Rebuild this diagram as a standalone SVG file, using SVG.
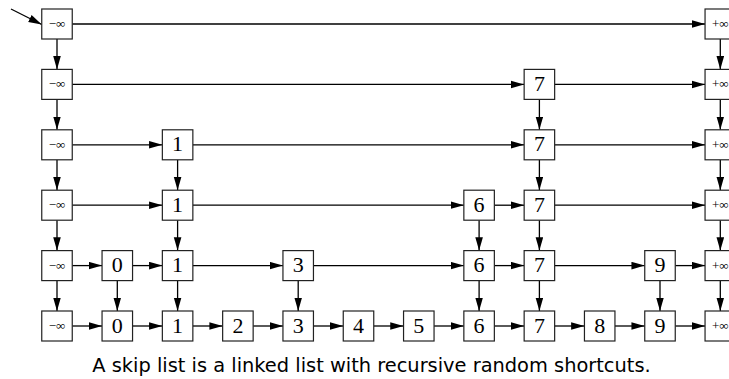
<svg xmlns="http://www.w3.org/2000/svg" width="729" height="379" viewBox="0 0 729 379">
<style>
.n rect{fill:#fff;stroke:#222;stroke-width:1.2}
.n text{font-family:"Liberation Serif",serif;font-size:22px;text-anchor:middle;fill:#000}
.n text.inf{font-size:13px}
#edges line{stroke:#000;stroke-width:1.3;marker-end:url(#ah)}
.cap{font-family:"DejaVu Sans",sans-serif;font-size:19.4px;text-anchor:middle;fill:#000}
</style>
<defs>
<marker id="ah" markerUnits="userSpaceOnUse" markerWidth="14" markerHeight="9" refX="13.3" refY="4" orient="auto">
<path d="M0,0.2 L13.3,4 L0,7.8 Z" fill="#000"/>
</marker>
</defs>
<rect width="729" height="379" fill="#fff"/>
<g id="edges">
<line x1="11" y1="9" x2="41.75" y2="24.5"/>
<!-- row 0 -->
<line x1="72.25" y1="24" x2="705.05" y2="24"/>
<!-- row 1 -->
<line x1="72.25" y1="84.4" x2="524.15" y2="84.4"/>
<line x1="554.65" y1="84.4" x2="705.05" y2="84.4"/>
<!-- row 2 -->
<line x1="72.25" y1="144.8" x2="162.35" y2="144.8"/>
<line x1="192.85" y1="144.8" x2="524.15" y2="144.8"/>
<line x1="554.65" y1="144.8" x2="705.05" y2="144.8"/>
<!-- row 3 -->
<line x1="72.25" y1="205.2" x2="162.35" y2="205.2"/>
<line x1="192.85" y1="205.2" x2="463.85" y2="205.2"/>
<line x1="494.35" y1="205.2" x2="524.15" y2="205.2"/>
<line x1="554.65" y1="205.2" x2="705.05" y2="205.2"/>
<!-- row 4 -->
<line x1="72.25" y1="265.6" x2="102.05" y2="265.6"/>
<line x1="132.55" y1="265.6" x2="162.35" y2="265.6"/>
<line x1="192.85" y1="265.6" x2="282.95" y2="265.6"/>
<line x1="313.45" y1="265.6" x2="463.85" y2="265.6"/>
<line x1="494.35" y1="265.6" x2="524.15" y2="265.6"/>
<line x1="554.65" y1="265.6" x2="644.75" y2="265.6"/>
<line x1="675.25" y1="265.6" x2="705.05" y2="265.6"/>
<!-- row 5 -->
<line x1="72.25" y1="326" x2="102.05" y2="326"/>
<line x1="132.55" y1="326" x2="162.35" y2="326"/>
<line x1="192.85" y1="326" x2="222.65" y2="326"/>
<line x1="253.15" y1="326" x2="282.95" y2="326"/>
<line x1="313.45" y1="326" x2="343.25" y2="326"/>
<line x1="373.75" y1="326" x2="403.55" y2="326"/>
<line x1="434.05" y1="326" x2="463.85" y2="326"/>
<line x1="494.35" y1="326" x2="524.15" y2="326"/>
<line x1="554.65" y1="326" x2="584.45" y2="326"/>
<line x1="614.95" y1="326" x2="644.75" y2="326"/>
<line x1="675.25" y1="326" x2="705.05" y2="326"/>
<!-- vertical: -inf column -->
<line x1="57" y1="39" x2="57" y2="69.4"/>
<line x1="57" y1="99.4" x2="57" y2="129.8"/>
<line x1="57" y1="159.8" x2="57" y2="190.2"/>
<line x1="57" y1="220.2" x2="57" y2="250.6"/>
<line x1="57" y1="280.6" x2="57" y2="311"/>
<!-- +inf column -->
<line x1="720.3" y1="39" x2="720.3" y2="69.4"/>
<line x1="720.3" y1="99.4" x2="720.3" y2="129.8"/>
<line x1="720.3" y1="159.8" x2="720.3" y2="190.2"/>
<line x1="720.3" y1="220.2" x2="720.3" y2="250.6"/>
<line x1="720.3" y1="280.6" x2="720.3" y2="311"/>
<!-- 7 column -->
<line x1="539.4" y1="99.4" x2="539.4" y2="129.8"/>
<line x1="539.4" y1="159.8" x2="539.4" y2="190.2"/>
<line x1="539.4" y1="220.2" x2="539.4" y2="250.6"/>
<line x1="539.4" y1="280.6" x2="539.4" y2="311"/>
<!-- 1 column -->
<line x1="177.6" y1="159.8" x2="177.6" y2="190.2"/>
<line x1="177.6" y1="220.2" x2="177.6" y2="250.6"/>
<line x1="177.6" y1="280.6" x2="177.6" y2="311"/>
<!-- 6 column -->
<line x1="479.1" y1="220.2" x2="479.1" y2="250.6"/>
<line x1="479.1" y1="280.6" x2="479.1" y2="311"/>
<!-- 0, 3, 9 columns -->
<line x1="117.3" y1="280.6" x2="117.3" y2="311"/>
<line x1="298.2" y1="280.6" x2="298.2" y2="311"/>
<line x1="660" y1="280.6" x2="660" y2="311"/>
</g>
<!-- row 0 -->
<g id="r0-minf" class="n"><rect x="41.75" y="9" width="30.5" height="30"/><text class="inf" x="57" y="28">−∞</text></g>
<g id="r0-pinf" class="n"><rect x="705.05" y="9" width="30.5" height="30"/><text class="inf" x="720.3" y="28">+∞</text></g>
<!-- row 1 -->
<g id="r1-minf" class="n"><rect x="41.75" y="69.4" width="30.5" height="30"/><text class="inf" x="57" y="88.4">−∞</text></g>
<g id="r1-7" class="n"><rect x="524.15" y="69.4" width="30.5" height="30"/><text x="539.4" y="90.9">7</text></g>
<g id="r1-pinf" class="n"><rect x="705.05" y="69.4" width="30.5" height="30"/><text class="inf" x="720.3" y="88.4">+∞</text></g>
<!-- row 2 -->
<g id="r2-minf" class="n"><rect x="41.75" y="129.8" width="30.5" height="30"/><text class="inf" x="57" y="148.8">−∞</text></g>
<g id="r2-1" class="n"><rect x="162.35" y="129.8" width="30.5" height="30"/><text x="177.6" y="151.3">1</text></g>
<g id="r2-7" class="n"><rect x="524.15" y="129.8" width="30.5" height="30"/><text x="539.4" y="151.3">7</text></g>
<g id="r2-pinf" class="n"><rect x="705.05" y="129.8" width="30.5" height="30"/><text class="inf" x="720.3" y="148.8">+∞</text></g>
<!-- row 3 -->
<g id="r3-minf" class="n"><rect x="41.75" y="190.2" width="30.5" height="30"/><text class="inf" x="57" y="209.2">−∞</text></g>
<g id="r3-1" class="n"><rect x="162.35" y="190.2" width="30.5" height="30"/><text x="177.6" y="211.7">1</text></g>
<g id="r3-6" class="n"><rect x="463.85" y="190.2" width="30.5" height="30"/><text x="479.1" y="211.7">6</text></g>
<g id="r3-7" class="n"><rect x="524.15" y="190.2" width="30.5" height="30"/><text x="539.4" y="211.7">7</text></g>
<g id="r3-pinf" class="n"><rect x="705.05" y="190.2" width="30.5" height="30"/><text class="inf" x="720.3" y="209.2">+∞</text></g>
<!-- row 4 -->
<g id="r4-minf" class="n"><rect x="41.75" y="250.6" width="30.5" height="30"/><text class="inf" x="57" y="269.6">−∞</text></g>
<g id="r4-0" class="n"><rect x="102.05" y="250.6" width="30.5" height="30"/><text x="117.3" y="272.1">0</text></g>
<g id="r4-1" class="n"><rect x="162.35" y="250.6" width="30.5" height="30"/><text x="177.6" y="272.1">1</text></g>
<g id="r4-3" class="n"><rect x="282.95" y="250.6" width="30.5" height="30"/><text x="298.2" y="272.1">3</text></g>
<g id="r4-6" class="n"><rect x="463.85" y="250.6" width="30.5" height="30"/><text x="479.1" y="272.1">6</text></g>
<g id="r4-7" class="n"><rect x="524.15" y="250.6" width="30.5" height="30"/><text x="539.4" y="272.1">7</text></g>
<g id="r4-9" class="n"><rect x="644.75" y="250.6" width="30.5" height="30"/><text x="660" y="272.1">9</text></g>
<g id="r4-pinf" class="n"><rect x="705.05" y="250.6" width="30.5" height="30"/><text class="inf" x="720.3" y="269.6">+∞</text></g>
<!-- row 5 -->
<g id="r5-minf" class="n"><rect x="41.75" y="311" width="30.5" height="30"/><text class="inf" x="57" y="330">−∞</text></g>
<g id="r5-0" class="n"><rect x="102.05" y="311" width="30.5" height="30"/><text x="117.3" y="332.5">0</text></g>
<g id="r5-1" class="n"><rect x="162.35" y="311" width="30.5" height="30"/><text x="177.6" y="332.5">1</text></g>
<g id="r5-2" class="n"><rect x="222.65" y="311" width="30.5" height="30"/><text x="237.9" y="332.5">2</text></g>
<g id="r5-3" class="n"><rect x="282.95" y="311" width="30.5" height="30"/><text x="298.2" y="332.5">3</text></g>
<g id="r5-4" class="n"><rect x="343.25" y="311" width="30.5" height="30"/><text x="358.5" y="332.5">4</text></g>
<g id="r5-5" class="n"><rect x="403.55" y="311" width="30.5" height="30"/><text x="418.8" y="332.5">5</text></g>
<g id="r5-6" class="n"><rect x="463.85" y="311" width="30.5" height="30"/><text x="479.1" y="332.5">6</text></g>
<g id="r5-7" class="n"><rect x="524.15" y="311" width="30.5" height="30"/><text x="539.4" y="332.5">7</text></g>
<g id="r5-8" class="n"><rect x="584.45" y="311" width="30.5" height="30"/><text x="599.7" y="332.5">8</text></g>
<g id="r5-9" class="n"><rect x="644.75" y="311" width="30.5" height="30"/><text x="660" y="332.5">9</text></g>
<g id="r5-pinf" class="n"><rect x="705.05" y="311" width="30.5" height="30"/><text class="inf" x="720.3" y="330">+∞</text></g>
<text class="cap" x="371.5" y="372">A skip list is a linked list with recursive random shortcuts.</text>
</svg>
